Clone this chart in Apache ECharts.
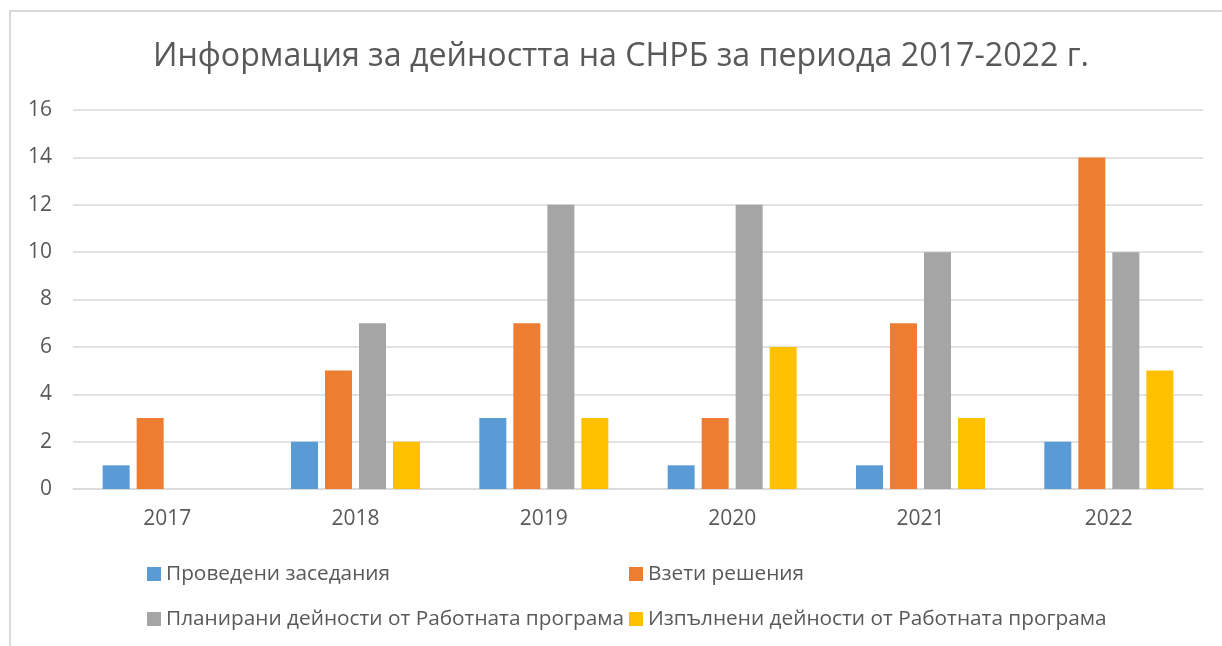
<!DOCTYPE html>
<html>
<head>
<meta charset="utf-8">
<script src="https://cdn.jsdelivr.net/npm/echarts@6/dist/echarts.min.js"></script>
<style>
html,body{margin:0;padding:0;background:#fff;}
#chart{width:1222px;height:646px;}
</style>
</head>
<body>
<div id="chart"></div>
<script>
const titleText = 'Информация за дейността на СНРБ за периода 2017-2022 г.';
const categories = ['2017', '2018', '2019', '2020', '2021', '2022'];
const seriesNames = [
  'Проведени заседания',
  'Взети решения',
  'Планирани дейности от Работната програма',
  'Изпълнени дейности от Работната програма'
];
const meetings = [1, 2, 3, 1, 1, 2];
const decisions = [3, 5, 7, 3, 7, 14];
const planned = [0, 7, 12, 12, 10, 10];
const completed = [0, 2, 3, 6, 3, 5];
const colors = ['#5B9BD5', '#ED7D31', '#A5A5A5', '#FFC000'];

const seriesData = [meetings, decisions, planned, completed];
const FONT = '"Open Sans", "Noto Sans", sans-serif';
const textColor = '#595959';

const legendPos = [
  {left: 147, top: 561},
  {left: 629, top: 561},
  {left: 147, top: 606},
  {left: 629, top: 606}
];

const chart = echarts.init(document.getElementById('chart'));
chart.setOption({
  animation: false,
  color: colors,
  title: {
    text: titleText,
    left: 616,
    textAlign: 'center',
    top: 36,
    textStyle: {fontFamily: FONT, fontSize: 32.2, fontWeight: 'normal', color: textColor}
  },
  graphic: [{
    type: 'rect',
    shape: {x: 10, y: 11, width: 1400, height: 800},
    style: {fill: 'none', stroke: '#d9d9d9', lineWidth: 2},
    silent: true
  }],
  legend: seriesNames.map((n, i) => ({
    data: [n],
    left: legendPos[i].left,
    top: legendPos[i].top,
    padding: 0,
    icon: 'rect',
    itemWidth: 14,
    itemHeight: 14,
    itemGap: 6,
    selectedMode: false,
    textStyle: {fontFamily: FONT, fontSize: 20.8, color: textColor, lineHeight: 26}
  })),
  grid: {left: 73, right: 19, top: 110, bottom: 157, containLabel: false},
  xAxis: {
    type: 'category',
    data: categories,
    axisLine: {lineStyle: {color: '#d9d9d9', width: 1.5}},
    axisTick: {show: false},
    axisLabel: {fontFamily: FONT, fontSize: 21, color: textColor, margin: 20}
  },
  yAxis: {
    type: 'value',
    min: 0,
    max: 16,
    interval: 2,
    axisLine: {show: false},
    axisTick: {show: false},
    splitLine: {lineStyle: {color: '#d9d9d9', width: 1.5}},
    axisLabel: {fontFamily: FONT, fontSize: 21, color: textColor, margin: 21}
  },
  series: seriesNames.map((n, i) => ({
    name: n,
    type: 'bar',
    data: seriesData[i],
    barGap: '26%',
    barCategoryGap: '31.5%',
    itemStyle: {color: colors[i]}
  }))
});
</script>
</body>
</html>
